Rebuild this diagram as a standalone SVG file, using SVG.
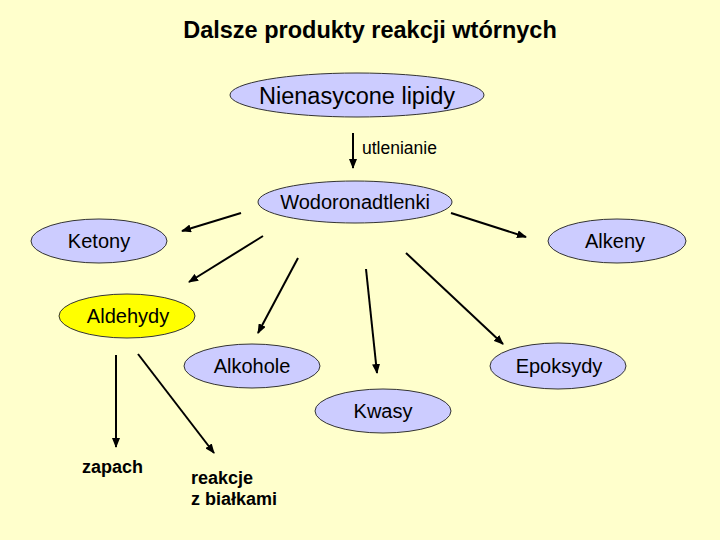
<svg xmlns="http://www.w3.org/2000/svg" width="720" height="540" viewBox="0 0 720 540">
<style>
.bg{fill:#FFFFCC}
.node{fill:#CCCCFF;stroke:#333333;stroke-width:1}
.yel{fill:#FFFF00;stroke:#333333;stroke-width:1}
text{font-family:"Liberation Sans",Arial,sans-serif;fill:#000}
.lbl{font-size:20px;text-anchor:middle}
.big{font-size:23.5px;text-anchor:middle}
.bold{font-weight:bold;font-size:18px}
.edge{stroke:#000;stroke-width:2;fill:none;marker-end:url(#ah)}
</style>
<defs>
<marker id="ah" markerUnits="userSpaceOnUse" markerWidth="10" markerHeight="8" viewBox="0 0 10 8" refX="9" refY="4" orient="auto">
<path d="M0,0 L10,4 L0,8 Z" fill="#000"/>
</marker>
</defs>
<rect class="bg" x="0" y="0" width="720" height="540"/>
<text x="370" y="38" font-size="23.5" font-weight="bold" text-anchor="middle">Dalsze produkty reakcji wtórnych</text>
<g id="connectors">
<line class="edge" x1="353" y1="133" x2="353" y2="168"/>
<line class="edge" x1="241" y1="213" x2="182" y2="231"/>
<line class="edge" x1="263" y1="236" x2="189" y2="282"/>
<line class="edge" x1="298" y1="258" x2="258" y2="333"/>
<line class="edge" x1="366" y1="269" x2="377" y2="373"/>
<line class="edge" x1="406" y1="253" x2="503" y2="344"/>
<line class="edge" x1="451" y1="213" x2="526" y2="237"/>
<line class="edge" x1="116" y1="355" x2="116" y2="447"/>
<line class="edge" x1="138" y1="354" x2="214" y2="453"/>
<text x="362" y="154" font-size="17.5">utlenianie</text>
</g>
<g id="n-lipidy"><ellipse class="node" cx="357" cy="95" rx="127" ry="22"/><text class="big" x="357" y="104">Nienasycone lipidy</text></g>
<g id="n-wodoronadtlenki"><ellipse class="node" cx="355" cy="202" rx="97" ry="21"/><text class="lbl" x="355" y="209">Wodoronadtlenki</text></g>
<g id="n-ketony"><ellipse class="node" cx="99" cy="241" rx="68" ry="22"/><text class="lbl" x="99" y="248">Ketony</text></g>
<g id="n-alkeny"><ellipse class="node" cx="617" cy="241" rx="69" ry="22"/><text class="lbl" x="615" y="248">Alkeny</text></g>
<g id="n-aldehydy"><ellipse class="yel" cx="127" cy="316" rx="68" ry="22"/><text class="lbl" x="128" y="323">Aldehydy</text></g>
<g id="n-alkohole"><ellipse class="node" cx="252" cy="366" rx="68" ry="22"/><text class="lbl" x="252" y="373">Alkohole</text></g>
<g id="n-epoksydy"><ellipse class="node" cx="558" cy="366" rx="68" ry="23"/><text class="lbl" x="559" y="373">Epoksydy</text></g>
<g id="n-kwasy"><ellipse class="node" cx="383" cy="411" rx="68" ry="22"/><text class="lbl" x="383" y="418">Kwasy</text></g>
<g id="n-zapach"><text class="bold" x="82" y="473">zapach</text></g>
<g id="n-reakcje"><text class="bold" x="191" y="484">reakcje</text><text class="bold" x="191" y="505">z białkami</text></g>
</svg>
